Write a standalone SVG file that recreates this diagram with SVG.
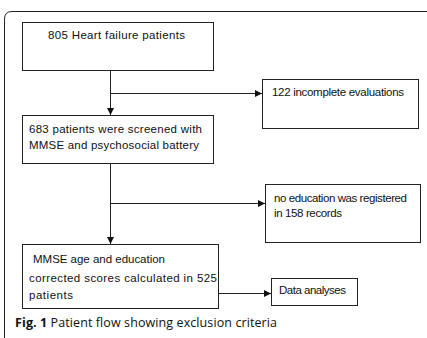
<svg xmlns="http://www.w3.org/2000/svg" width="427" height="338" viewBox="0 0 427 338">
<style>
.box{fill:#fff;stroke:#222;stroke-width:1}
.t{font-family:"Liberation Sans",Arial,sans-serif;font-size:11.5px;fill:#111}
.cap{font-family:"Open Sans","Noto Sans",sans-serif;font-size:12.5px;fill:#111}
.ln{fill:none;stroke:#222;stroke-width:1}
</style>
<defs>
<marker id="ah" viewBox="0 0 8 8" refX="8" refY="4" markerWidth="7" markerHeight="7" markerUnits="userSpaceOnUse" orient="auto">
<path d="M0,0 L8,4 L0,8 z" fill="#111"/>
</marker>
</defs>
<rect width="427" height="338" fill="#fff"/>
<path class="ln" d="M4.5,338 V19 Q4.5,11.5 12,11.5 H427"/>
<g id="connectors">
<path class="ln" d="M110.5,70 V115" marker-end="url(#ah)"/>
<path class="ln" d="M110.5,93.5 H262" marker-end="url(#ah)"/>
<path class="ln" d="M110.5,163 V244" marker-end="url(#ah)"/>
<path class="ln" d="M110.5,203.5 H265" marker-end="url(#ah)"/>
<path class="ln" d="M218,293.5 H271" marker-end="url(#ah)"/>
</g>
<g id="n1">
<rect class="box" x="22.5" y="22.5" width="191" height="48"/>
<text class="t" x="48" y="39" textLength="137">805 Heart failure patients</text>
</g>
<g id="n2">
<rect class="box" x="262.5" y="79.5" width="156" height="49"/>
<text class="t" x="272" y="96" textLength="132">122 incomplete evaluations</text>
</g>
<g id="n3">
<rect class="box" x="22.5" y="115.5" width="191" height="48"/>
<text class="t" x="29" y="133" textLength="173">683 patients were screened with</text>
<text class="t" x="29" y="149" textLength="170">MMSE and psychosocial battery</text>
</g>
<g id="n4">
<rect class="box" x="265.5" y="184.5" width="155" height="58"/>
<text class="t" x="274" y="202" textLength="133">no education was registered</text>
<text class="t" x="274" y="217" textLength="68">in 158 records</text>
</g>
<g id="n5">
<rect class="box" x="22.5" y="244.5" width="196" height="64"/>
<text class="t" x="33" y="263" textLength="132">MMSE age and education</text>
<text class="t" x="29" y="282" textLength="188">corrected scores calculated in 525</text>
<text class="t" x="29" y="299" textLength="44">patients</text>
</g>
<g id="n6">
<rect class="box" x="271.5" y="278.5" width="86" height="27"/>
<text class="t" x="279" y="294" textLength="67">Data analyses</text>
</g>
<text class="cap" x="15" y="327" textLength="262"><tspan font-weight="bold">Fig. 1</tspan> Patient flow showing exclusion criteria</text>
</svg>
